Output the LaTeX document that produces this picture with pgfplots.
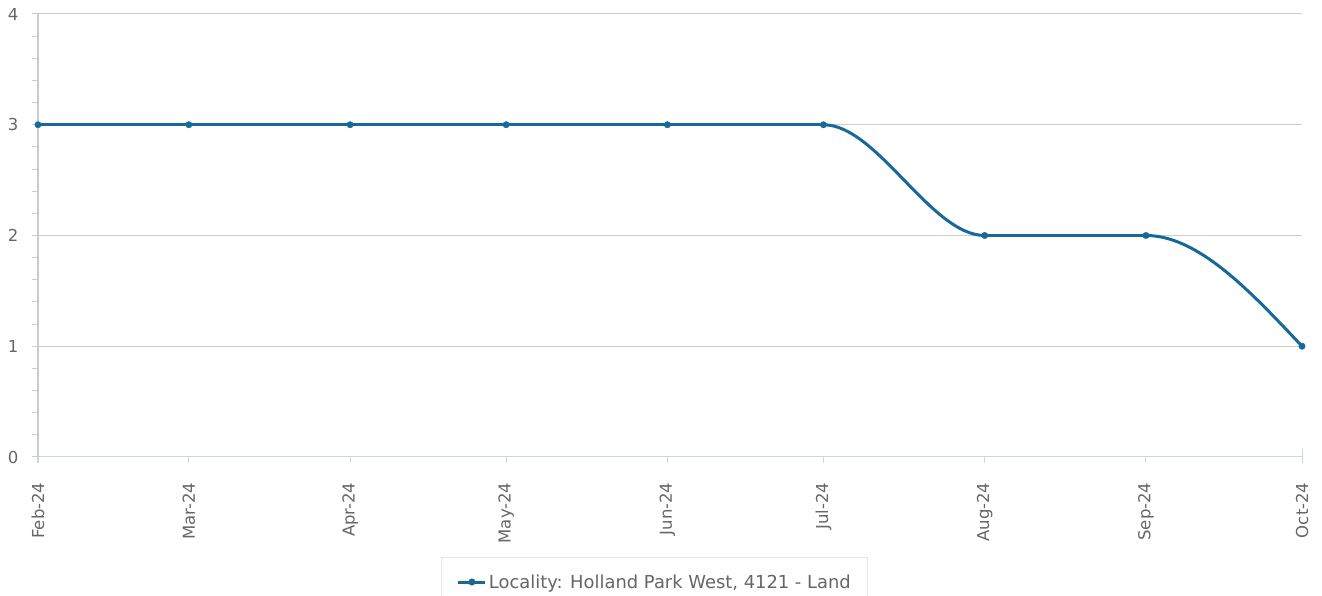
\documentclass[border=0pt]{standalone}
\usepackage{pgfplots}
\usepackage{pgfplotstable}
\pgfplotsset{compat=1.18}
\usepackage{fontspec}
\setmainfont{DejaVu Sans}
\definecolor{serie}{RGB}{24,104,152}
\definecolor{txt}{RGB}{102,102,102}
\definecolor{gridc}{RGB}{204,204,204}
\definecolor{xaxisc}{RGB}{204,214,235}
\definecolor{legbox}{RGB}{230,230,230}
\pgfplotstableread{
x y
0 3
29 3
60 3
90 3
121 3
151 3
182 2
213 2
243 1
}\data
\begin{document}
\begin{tikzpicture}[x=1pt,y=1pt]
\useasboundingbox (0,0) rectangle (1322,596);
\begin{axis}[
  at={(38pt,139pt)}, anchor=south west,
  scale only axis, width=1264pt, height=443pt,
  xmin=0, xmax=243, ymin=0, ymax=4,
  clip=false,
  /pgf/number format/assume math mode=true,
  axis x line*=bottom, axis y line*=left,
  axis line style={-},
  x axis line style={draw=xaxisc, line width=1pt},
  y axis line style={draw=gridc, line width=1pt},
  xtick={0,29,60,90,121,151,182,213,243},
  xticklabels={Feb-24,Mar-24,Apr-24,May-24,Jun-24,Jul-24,Aug-24,Sep-24,Oct-24},
  ytick={0,1,2,3,4},
  minor y tick num=4,
  tick align=outside,
  major tick length=6pt, minor tick length=6pt,
  xtick style={draw=xaxisc, line width=1pt, shorten >=-8pt},
  ytick style={draw=gridc, line width=1pt},
  ymajorgrids,
  major grid style={draw=gridc, line width=1pt},
  xticklabel style={rotate=90, anchor=east, font=\fontsize{16.5}{19}\selectfont, text=txt},
  xticklabel shift=16pt,
  yticklabel style={anchor=east, font=\fontsize{16.5}{19}\selectfont, text=txt},
  yticklabel shift=10pt,
  legend style={at={(0.488,-0.2257)}, anchor=north, draw=legbox, line width=1pt,
    fill=white, inner xsep=15pt, inner ysep=15pt,
    font=\fontsize{17.9}{21}\selectfont, text=txt,
    /tikz/every even column/.append style={column sep=4pt}},
  legend cell align=left,
]
\addlegendimage{legend image code/.code={
  \draw[serie, line width=3pt] (0pt,0pt) -- (27pt,0pt);
  \fill[serie] (13.5pt,0pt) circle (3pt);}}
\addlegendentry{Locality: Holland Park West, 4121 - Land}
\addplot[serie, line width=3pt, forget plot, restrict x to domain=0:151] table[x=x,y=y] {\data};
\addplot[serie, line width=3pt, forget plot, restrict x to domain=182:213] table[x=x,y=y] {\data};
\draw[serie, line width=3pt] (axis cs:151,3) .. controls (axis cs:161.33,3) and (axis cs:171.67,2) .. (axis cs:182,2);
\draw[serie, line width=3pt] (axis cs:213,2) .. controls (axis cs:223,2) and (axis cs:233,1.5) .. (axis cs:243,1);
\addplot[only marks, mark=*, mark size=3.2pt, serie, forget plot] table[x=x,y=y] {\data};
\end{axis}
\end{tikzpicture}
\end{document}
